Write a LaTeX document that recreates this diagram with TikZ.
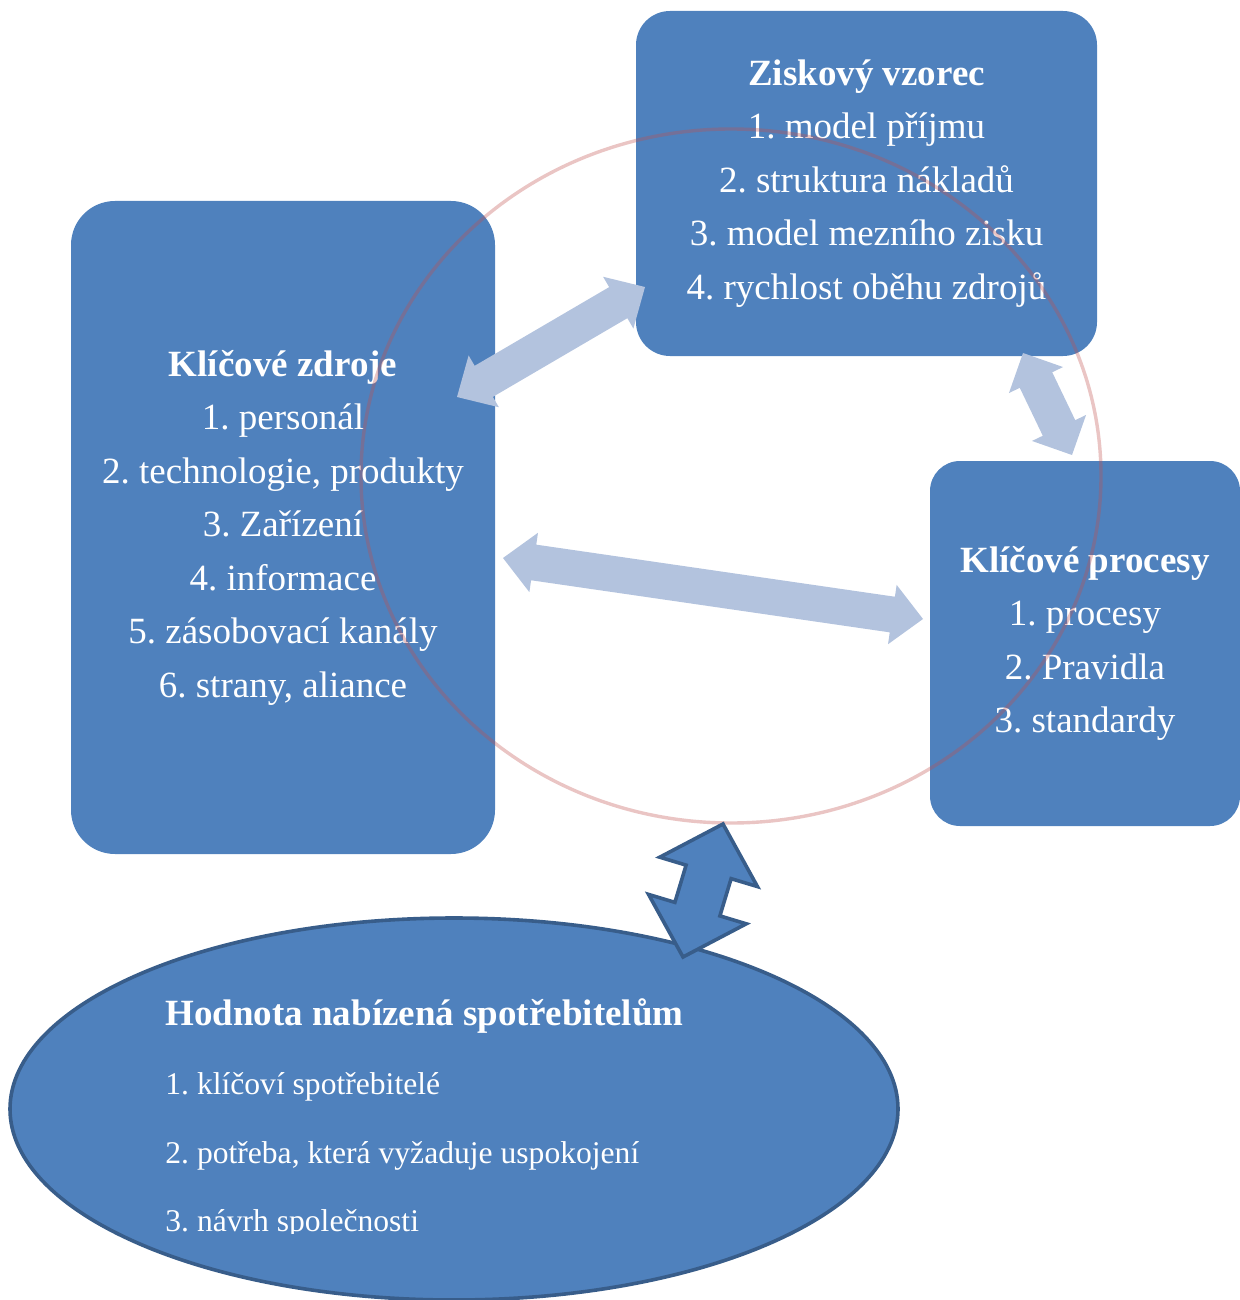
\documentclass[tikz,border=0pt]{standalone}
\usepackage{fontspec}
\setmainfont{Liberation Serif}
\usetikzlibrary{calc,shapes.geometric}
\definecolor{boxblue}{HTML}{4F81BD}
\definecolor{darkblue}{HTML}{385D8A}
\definecolor{lightarr}{HTML}{B3C3DE}
\definecolor{ringred}{HTML}{C0504D}
\frenchspacing
% #1 style, #2 start, #3 end, #4 half shaft, #5 half head, #6 head length
\newcommand\dblarr[6]{%
  \coordinate (#2-h) at ($(#2)!#6!(#3)$);
  \coordinate (#3-h) at ($(#3)!#6!(#2)$);
  \path[#1] (#2) -- ($(#2-h)!#5!90:(#3)$) -- ($(#2-h)!#4!90:(#3)$)
    -- ($(#3-h)!#4!-90:(#2)$) -- ($(#3-h)!#5!-90:(#2)$) -- (#3)
    -- ($(#3-h)!#5!90:(#2)$) -- ($(#3-h)!#4!90:(#2)$)
    -- ($(#2-h)!#4!-90:(#3)$) -- ($(#2-h)!#5!-90:(#3)$) -- cycle;}
\begin{document}
\begin{tikzpicture}[x=0.5pt,y=-0.5pt,
  box/.style={fill=boxblue, draw=none, text=white, align=center, inner sep=0pt,
    font=\fontsize{18.5}{26.75}\selectfont\frenchspacing},
  lightarrow/.style={fill=lightarr},
  darkarrow/.style={fill=boxblue, draw=darkblue, line width=1.8pt, line join=miter},
  ring/.style={ellipse, draw=ringred, draw opacity=0.33, line width=1.7pt, inner sep=0pt},
  valtitle/.style={anchor=base west, inner sep=0pt, text=white, font=\bfseries\fontsize{18.5}{22}\selectfont},
  valitem/.style={anchor=base west, inner sep=0pt, text=white, font=\fontsize{15.8}{19}\selectfont\frenchspacing}]
\useasboundingbox (0,0) rectangle (1240,1300);

% boxes
\node[box, rounded corners=17pt, minimum width=230.5pt, minimum height=172.5pt] (zisk) at (866.5,183.5)
  {\textbf{Ziskový vzorec}\\1. model příjmu\\2. struktura nákladů\\3. model mezního zisku\\4. rychlost oběhu zdrojů};
\node[box, rounded corners=22pt, minimum width=212pt, minimum height=326.5pt] (zdroje) at (283,527.5)
  {\textbf{Klíčové zdroje}\\1. personál\\2. technologie, produkty\\3. Zařízení\\4. informace\\5. zásobovací kanály\\6. strany, aliance};
\node[box, rounded corners=15pt, minimum width=155pt, minimum height=182.5pt] (procesy) at (1085,643.5)
  {\textbf{Klíčové procesy}\\1. procesy\\2. Pravidla\\3. standardy};

% light double arrows
\coordinate (a1s) at (457,397);
\coordinate (a1e) at (645,287);
\coordinate (a2s) at (503,558);
\coordinate (a2e) at (923,619);
\coordinate (a3s) at (1023,353);
\coordinate (a3e) at (1072,455);
\dblarr{lightarrow}{a1s}{a1e}{9pt}{15pt}{15.5pt}
\dblarr{lightarrow}{a2s}{a2e}{9pt}{15pt}{15.5pt}
\dblarr{lightarrow}{a3s}{a3e}{9pt}{15pt}{15pt}

% ring
\node[ring, minimum width=370pt, minimum height=347pt] (cycle) at (731,476) {};

% value ellipse
\node[ellipse, fill=boxblue, draw=darkblue, line width=1.8pt, inner sep=0pt,
  minimum width=444pt, minimum height=191pt] (hodnota) at (454,1109) {};

% dark double arrow
\coordinate (a4s) at (723,824);
\coordinate (a4e) at (683,957);
\dblarr{darkarrow}{a4s}{a4e}{11.75pt}{25.5pt}{25pt}

% ellipse text
\begin{scope}
\clip (0,0) rectangle (1240,1233);
\node[valtitle] (h0) at (165,1025) {Hodnota nabízená spotřebitelům};
\node[valitem] (h1) at (165,1094) {1. klíčoví spotřebitelé};
\node[valitem] (h2) at (165,1163) {2. potřeba, která vyžaduje uspokojení};
\node[valitem] (h3) at (165,1231) {3. návrh společnosti};
\end{scope}
\end{tikzpicture}
\end{document}
